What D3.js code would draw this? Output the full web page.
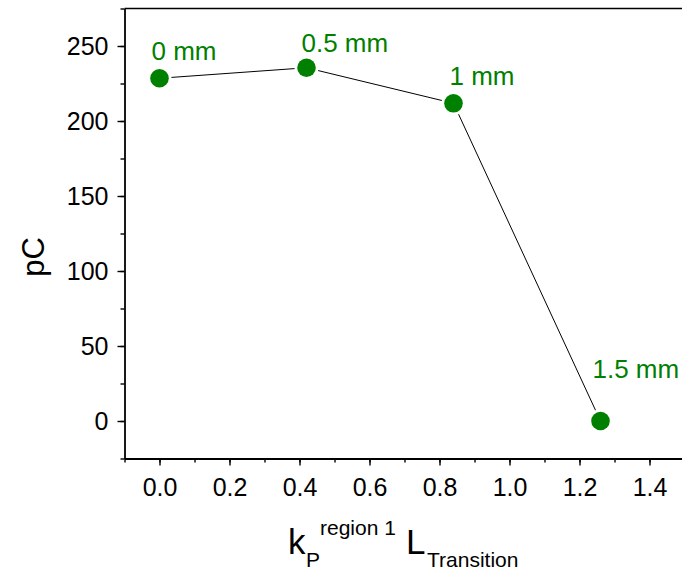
<!DOCTYPE html>
<meta charset="utf-8">
<style>
body { margin: 0; background: #fff; }
text { font-family: "Liberation Sans", Arial, sans-serif; }
.axis path, .axis line { stroke: #000; }
</style>
<svg width="682" height="571"></svg>
<script src="https://d3js.org/d3.v7.min.js"></script>
<script>

// values
var xs = [0, 0.42, 0.84, 1.26],
    ys = [228.5, 235.5, 211.8, 0],
    labels = ["0 mm", "0.5 mm", "1 mm", "1.5 mm"],
    labelShift = [[-8, -18], [-5, -16], [-4, -18], [-8, -43]];

var xTicks = [0, 0.2, 0.4, 0.6, 0.8, 1.0, 1.2, 1.4],
    yTicks = [0, 50, 100, 150, 200, 250];

var svg = d3.select("svg");

var x = d3.scaleLinear().domain([-0.1, 1.5]).range([124.5, 684.5]),
    y = d3.scaleLinear().domain([-25, 275]).range([458.5, 8.5]);

var green = "#008000";

// frame: top line (left and bottom come from the axes)
svg.append("line")
    .attr("x1", x(-0.1)).attr("x2", x(1.5))
    .attr("y1", y(275)).attr("y2", y(275))
    .attr("stroke", "#000").attr("stroke-width", 1.6);

// minor ticks
var xMinor = d3.range(-0.1, 1.5001, 0.1).map(function(d) { return +d.toFixed(2); }),
    yMinor = d3.range(-25, 276, 25);

svg.append("g").attr("class", "axis")
    .attr("transform", "translate(0," + y(-25) + ")")
    .call(d3.axisBottom(x).tickValues(xMinor).tickSize(4).tickFormat(""))
    .call(function(g) { g.select(".domain").remove(); })
    .selectAll("line").attr("stroke-width", 1.4);

svg.append("g").attr("class", "axis")
    .attr("transform", "translate(" + x(-0.1) + ",0)")
    .call(d3.axisLeft(y).tickValues(yMinor).tickSize(4).tickFormat(""))
    .call(function(g) { g.select(".domain").remove(); })
    .selectAll("line").attr("stroke-width", 1.4);

// major ticks + labels
var xAxis = svg.append("g").attr("class", "axis")
    .attr("transform", "translate(0," + y(-25) + ")")
    .call(d3.axisBottom(x).tickValues(xTicks).tickSize(7).tickSizeOuter(0).tickPadding(13)
      .tickFormat(d3.format(".1f")));
xAxis.select(".domain").attr("stroke-width", 1.8);
xAxis.selectAll("line").attr("stroke-width", 1.4);
xAxis.selectAll("text").attr("font-size", 25).attr("fill", "#000")
    .style("font-family", "'Liberation Sans', Arial, sans-serif");

var yAxis = svg.append("g").attr("class", "axis")
    .attr("transform", "translate(" + x(-0.1) + ",0)")
    .call(d3.axisLeft(y).tickValues(yTicks).tickSize(7).tickSizeOuter(0).tickPadding(9));
yAxis.select(".domain").attr("stroke-width", 1.8);
yAxis.selectAll("line").attr("stroke-width", 1.4);
yAxis.selectAll("text").attr("font-size", 25).attr("fill", "#000")
    .style("font-family", "'Liberation Sans', Arial, sans-serif");

// connecting line
var pts = xs.map(function(d, i) { return [d, ys[i]]; });
svg.append("path")
    .datum(pts)
    .attr("fill", "none")
    .attr("stroke", "#000")
    .attr("stroke-width", 1)
    .attr("d", d3.line().x(function(d) { return x(d[0]); }).y(function(d) { return y(d[1]); }));

// markers, with a white gap round each one
svg.selectAll("circle.pt")
    .data(pts)
  .enter().append("circle")
    .attr("class", "pt")
    .attr("cx", function(d) { return x(d[0]); })
    .attr("cy", function(d) { return y(d[1]); })
    .attr("r", 12)
    .attr("fill", "#fff");

svg.selectAll("circle.dot")
    .data(pts)
  .enter().append("circle")
    .attr("class", "dot")
    .attr("cx", function(d) { return x(d[0]); })
    .attr("cy", function(d) { return y(d[1]); })
    .attr("r", 9.3)
    .attr("fill", green);

svg.selectAll("text.lbl")
    .data(pts)
  .enter().append("text")
    .attr("class", "lbl")
    .attr("x", function(d, i) { return x(d[0]) + labelShift[i][0]; })
    .attr("y", function(d, i) { return y(d[1]) + labelShift[i][1]; })
    .attr("font-size", 26)
    .attr("fill", green)
    .text(function(d, i) { return labels[i]; });

// y title
svg.append("text")
    .attr("transform", "translate(44,257) rotate(-90)")
    .attr("text-anchor", "middle")
    .attr("font-size", 31)
    .text("pC");

// x title with sub/superscripts
var xt = svg.append("text").attr("x", 288).attr("y", 554).attr("font-size", 35);
xt.append("tspan").text("k");
xt.append("tspan").attr("x", 306).attr("y", 567).attr("font-size", 21).text("P");
xt.append("tspan").attr("x", 320).attr("y", 535).attr("font-size", 21).text("region 1");
xt.append("tspan").attr("x", 406).attr("y", 554).text("L");
xt.append("tspan").attr("x", 427).attr("y", 567).attr("font-size", 21).text("Transition");

</script>
